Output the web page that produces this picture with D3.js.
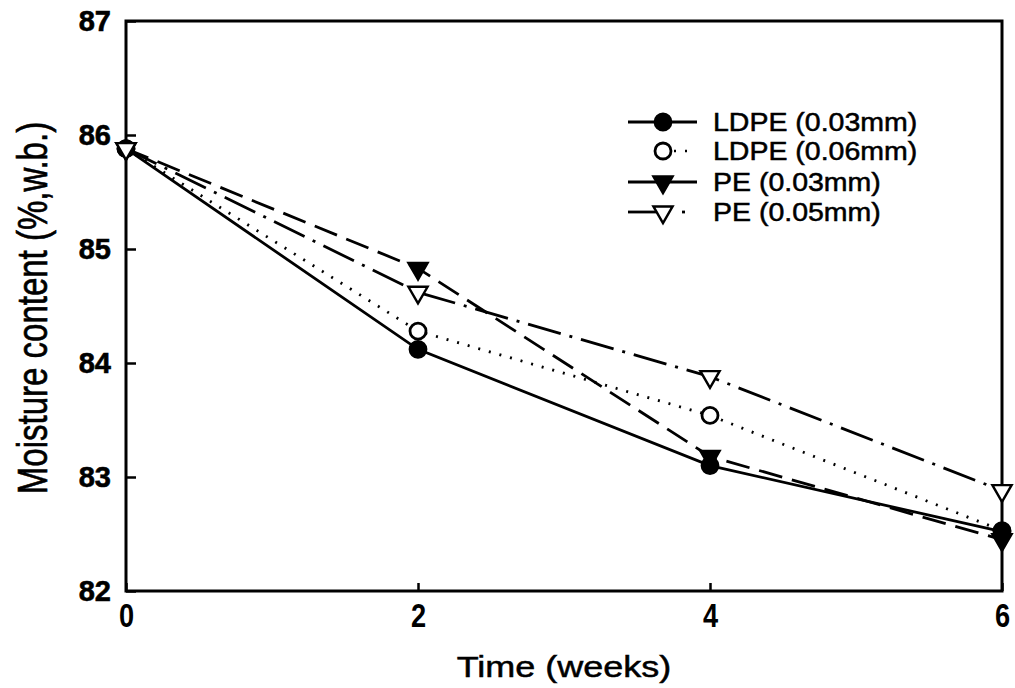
<!DOCTYPE html>
<html><head><meta charset="utf-8">
<script src="https://cdn.jsdelivr.net/npm/d3@7"></script>
<style>body{margin:0;background:#fff}svg{display:block}</style>
</head><body>
<svg id="c" width="1015" height="688"></svg>
<script>
const weeks = [0, 2, 4, 6];
const ldpe003 = [85.88, 84.12, 83.10, 82.52];
const ldpe006 = [85.88, 84.28, 83.54, 82.53];
const pe003 = [85.88, 84.83, 83.18, 82.45];
const pe005 = [85.88, 84.62, 83.88, 82.88];
const seriesNames = ["LDPE (0.03mm)", "LDPE (0.06mm)", "PE (0.03mm)", "PE (0.05mm)"];
const yTicks = [82, 83, 84, 85, 86, 87];
const xTicks = [0, 2, 4, 6];

const series = [
  {name: seriesNames[0], vals: ldpe003, marker: "circle", filled: true, dash: null},
  {name: seriesNames[1], vals: ldpe006, marker: "circle", filled: false, dash: "2,9"},
  {name: seriesNames[2], vals: pe003, marker: "tri", filled: true, dash: "24,10"},
  {name: seriesNames[3], vals: pe005, marker: "tri", filled: false, dash: "34,9,3,9"}
];

const svg = d3.select("#c");
const x = d3.scaleLinear().domain([0, 6]).range([126, 1002]);
const y = d3.scaleLinear().domain([82, 87]).range([591, 21]);
const font = "'Liberation Sans', Arial, Helvetica, sans-serif";

// axes
const ya = svg.append("g").attr("transform", `translate(${x(0)},0)`)
  .call(d3.axisLeft(y).tickValues(yTicks).tickFormat(d3.format("d")).tickSizeInner(-10).tickSizeOuter(0).tickPadding(15));
ya.select(".domain").remove();
ya.selectAll("line").attr("stroke", "#000").attr("stroke-width", 2.5);
ya.selectAll("text").attr("font-family", font).attr("font-weight", "bold").attr("font-size", 29)
  .attr("fill", "#000").attr("stroke", "#000").attr("stroke-width", 0.6);

const xa = svg.append("g").attr("transform", `translate(0,${y(82)})`)
  .call(d3.axisBottom(x).tickValues(xTicks).tickFormat(d3.format("d")).tickSizeInner(-8).tickSizeOuter(0).tickPadding(12));
xa.select(".domain").remove();
xa.selectAll("line").attr("stroke", "#000").attr("stroke-width", 2.5);
xa.selectAll("text").attr("font-family", font).attr("font-weight", "bold").attr("font-size", 34)
  .attr("transform", "scale(0.8,1)").attr("fill", "#000");

// frame
svg.append("rect").attr("x", x(0)).attr("y", y(87)).attr("width", x(6) - x(0)).attr("height", y(82) - y(87))
  .attr("fill", "none").attr("stroke", "#000").attr("stroke-width", 3);

// titles
svg.append("text").attr("transform", `translate(${(x(0) + x(6)) / 2},677) scale(1.2,1)`)
  .attr("text-anchor", "middle").attr("font-family", font).attr("font-size", 30)
  .attr("stroke", "#000").attr("stroke-width", 0.5).text("Time (weeks)");
svg.append("text").attr("transform", `translate(47,${(y(82) + y(87)) / 2 + 2}) rotate(-90) scale(1,1.3)`)
  .attr("text-anchor", "middle").attr("font-family", font).attr("font-size", 33)
  .attr("stroke", "#000").attr("stroke-width", 0.5).text("Moisture content (%,w.b.)");

const line = d3.line().x((d, i) => x(weeks[i])).y(d => y(d));
const tri = d3.symbol().type(d3.symbolTriangle).size(160);

function drawMarker(g, s, cx, cy) {
  if (s.marker === "circle") {
    g.append("circle").attr("cx", cx).attr("cy", cy).attr("r", 8)
      .attr("fill", s.filled ? "#000" : "#fff").attr("stroke", "#000").attr("stroke-width", 2.8);
  } else {
    g.append("path").attr("d", tri()).attr("transform", `translate(${cx},${cy}) rotate(180)`)
      .attr("fill", s.filled ? "#000" : "#fff").attr("stroke", "#000").attr("stroke-width", 2.4);
  }
}

const plot = svg.append("g");
series.forEach(s => {
  plot.append("path").datum(s.vals).attr("d", line).attr("fill", "none").attr("stroke", "#000")
    .attr("stroke-width", 2.8)
    .attr("stroke-dasharray", s.dash);
});
[1, 0, 2, 3].forEach(k => {
  const s = series[k];
  s.vals.forEach((v, i) => drawMarker(plot, s, x(weeks[i]), y(v)));
});

// legend
const legY = [122, 151, 182, 212];
const leg = svg.append("g");
series.forEach((s, k) => {
  const ly = legY[k];
  if (k === 0 || k === 2) {
    leg.append("line").attr("x1", 628).attr("x2", 697).attr("y1", ly).attr("y2", ly)
      .attr("stroke", "#000").attr("stroke-width", 2.8);
  } else if (k === 1) {
    leg.append("line").attr("x1", 674).attr("x2", 690).attr("y1", ly).attr("y2", ly)
      .attr("stroke", "#000").attr("stroke-width", 2.5).attr("stroke-dasharray", "2,9");
  } else {
    leg.append("line").attr("x1", 628).attr("x2", 656).attr("y1", ly).attr("y2", ly)
      .attr("stroke", "#000").attr("stroke-width", 2.8);
    leg.append("line").attr("x1", 682).attr("x2", 685).attr("y1", ly).attr("y2", ly)
      .attr("stroke", "#000").attr("stroke-width", 2.8);
  }
  drawMarker(leg, s, 663, ly);
  leg.append("text").attr("transform", `translate(713,${ly + 9}) scale(1.14,1)`)
    .attr("font-family", font).attr("font-size", 25)
    .attr("stroke", "#000").attr("stroke-width", 0.5).text(s.name);
});
</script>
</body></html>
